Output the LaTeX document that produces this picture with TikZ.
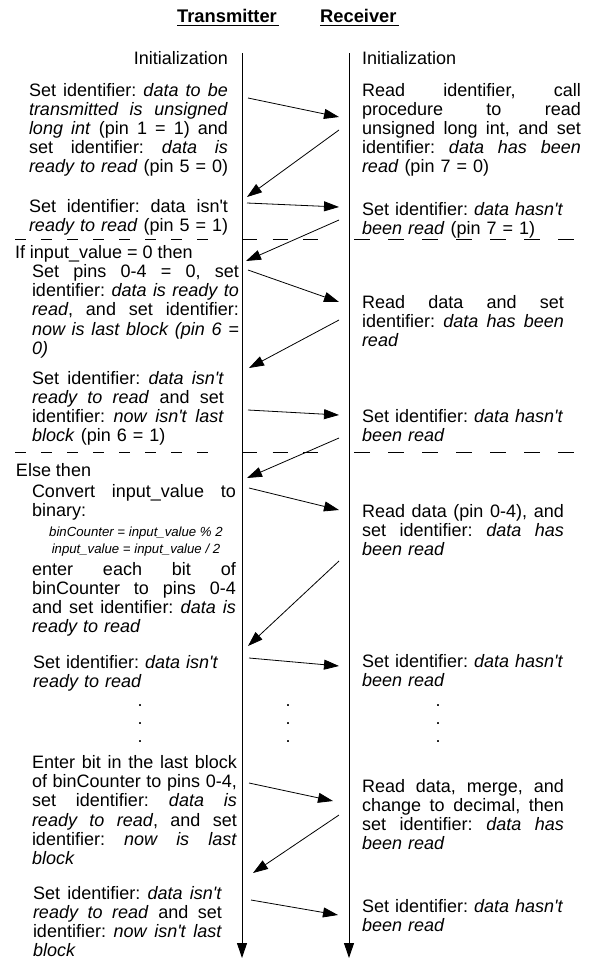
\documentclass[tikz,border=0pt]{standalone}
\usepackage{fontspec}
\setmainfont{Liberation Sans}[Ligatures=TeXOff]
\usetikzlibrary{arrows.meta}
\def\bwv{200pt}
\newcommand{\tf}{\fontsize{18}{19.2}\selectfont\frenchspacing}
\newcommand{\jl}[1]{\leavevmode\hbox to \bwv{\spaceskip=5pt plus 1fil minus 1.5pt\relax #1}}
\newcommand{\lastln}[1]{\leavevmode\hbox to \bwv{#1\hss}}
\begin{document}
\begin{tikzpicture}[x=1pt,y=-1pt,
  txt/.style={anchor=base west, inner sep=0pt, outer sep=0pt, font=\tf},
  blk/.style={anchor=base west, inner sep=0pt, outer sep=0pt, align=left, text width=240pt, font=\tf},
  conn/.style={-{Triangle[length=15pt,width=10pt]}, line width=0.8pt},
  life/.style={-{Triangle[length=15pt,width=10pt]}, line width=1pt},
  sepl/.style={line width=1pt, dash pattern=on 11pt off 15pt},
  sepm/.style={line width=1pt, dash pattern=on 15pt off 15.5pt},
  sepr/.style={line width=1pt, dash pattern=on 16pt off 18pt},
  dotn/.style={inner sep=0pt, font=\tf},
  smalltxt/.style={anchor=base, inner sep=0pt, font=\fontsize{13.2}{14}\selectfont\itshape},
  titletxt/.style={anchor=base west, inner sep=0pt, font=\fontsize{18.3}{20}\selectfont\bfseries}]
\useasboundingbox (0,0) rectangle (589,961);

% titles
\node[titletxt] (tT) at (177,22) {Transmitter};
\node[titletxt] (tR) at (320,22) {Receiver};
\draw[line width=1.5pt] ([yshift=-3.5pt]tT.base west) -- ([yshift=-3.5pt,xshift=2pt]tT.base east);
\draw[line width=1.5pt] ([yshift=-3.5pt]tR.base west) -- ([yshift=-3.5pt,xshift=2pt]tR.base east);

% lifelines
\coordinate (Ltop) at (242,53);
\coordinate (Lbot) at (242,958);
\coordinate (Rtop) at (349,53);
\coordinate (Rbot) at (349,958);
\draw[life] (Ltop) -- (Lbot);
\draw[life] (Rtop) -- (Rbot);

% initialization
\node[txt, anchor=base east] (initL) at (228,64) {Initialization};
\node[txt] (initR) at (362,64) {Initialization};

% block A
\node[blk] (lA) at (29,96) {\tf\def\bwv{199pt}\jl{Set identifier: \textit{data to be}}\\\jl{\textit{transmitted is unsigned}}\\\jl{\textit{long int} (pin 1 = 1) and}\\\jl{set identifier: \textit{data is}}\\\lastln{\textit{ready to read} (pin 5 = 0)}};
\node[blk] (rA) at (362,96) {\tf\def\bwv{219pt}\jl{Read identifier, call}\\\jl{procedure to read}\\\jl{unsigned long int, and set}\\\jl{identifier: \textit{data has been}}\\\lastln{\textit{read} (pin 7 = 0)}};

% block B
\node[blk] (lB) at (29,212) {\tf\def\bwv{199pt}\jl{Set identifier: data isn't}\\\lastln{\textit{ready to read} (pin 5 = 1)}};
\node[blk] (rB) at (362,215) {\tf Set identifier: \textit{data hasn't}\\\textit{been read} (pin 7 = 1)};

% separator 1
\draw[sepl] (15,239.5) -- (212,239.5);
\draw[sepm] (242,239.5) -- (320,239.5);
\draw[sepr] (354,239.5) -- (575,239.5);

% block C
\node[txt] (lIf) at (15,258) {If input\_value = 0 then};
\node[blk] (lC) at (32,277.5) {\tf\def\bwv{207pt}\jl{Set pins 0-4 = 0, set}\\\jl{identifier: \textit{data is ready to}}\\\jl{\textit{read}, and set identifier:}\\\jl{\textit{now is last block (pin 6 =}}\\\lastln{\textit{0)}}};
\node[blk] (rC) at (362,308) {\tf\def\bwv{202pt}\jl{Read data and set}\\\jl{identifier: \textit{data has been}}\\\lastln{\textit{read}}};

% block D
\node[blk] (lD) at (32,384) {\tf\def\bwv{192pt}\jl{Set identifier: \textit{data isn't}}\\\jl{\textit{ready to read} and set}\\\jl{identifier: \textit{now isn't last}}\\\lastln{\textit{block} (pin 6 = 1)}};
\node[blk] (rD) at (362,422.4) {\tf Set identifier: \textit{data hasn't}\\\textit{been read}};

% separator 2
\draw[sepl] (15,452) -- (212,452);
\draw[sepm] (242,452) -- (320,452);
\draw[sepr] (354,452) -- (575,452);

% block E
\node[txt] (lElse) at (16,476) {Else then};
\node[blk] (lE1) at (32,497) {\tf\def\bwv{204pt}\jl{Convert input\_value to}\\\lastln{binary:}};
\node[smalltxt] (s1) at (136,536) {binCounter = input\_value \% 2};
\node[smalltxt] (s2) at (136,553) {input\_value = input\_value / 2};
\node[blk] (lE2) at (32,575) {\tf\def\bwv{204pt}\jl{enter each bit of}\\\jl{binCounter to pins 0-4}\\\jl{and set identifier: \textit{data is}}\\\lastln{\textit{ready to read}}};
\node[blk] (rE) at (362,517) {\tf\def\bwv{202pt}\jl{Read data (pin 0-4), and}\\\jl{set identifier: \textit{data has}}\\\lastln{\textit{been read}}};

% block F
\node[blk] (lF) at (33,668) {\tf Set identifier: \textit{data isn't}\\\textit{ready to read}};
\node[blk] (rF) at (362,667) {\tf Set identifier: \textit{data hasn't}\\\textit{been read}};

% dots
\node[dotn] (dl1) at (140,706) {.};
\node[dotn] (dl2) at (140,724) {.};
\node[dotn] (dl3) at (140,742) {.};
\node[dotn] (dm1) at (288,706) {.};
\node[dotn] (dm2) at (288,724) {.};
\node[dotn] (dm3) at (288,742) {.};
\node[dotn] (dr1) at (438,706) {.};
\node[dotn] (dr2) at (438,724) {.};
\node[dotn] (dr3) at (438,742) {.};

% block G
\node[blk] (lG) at (32,768.5) {\tf\def\bwv{205pt}\jl{Enter bit in the last block}\\\jl{of binCounter to pins 0-4,}\\\jl{set identifier: \textit{data is}}\\\jl{\textit{ready to read}, and set}\\\jl{identifier: \textit{now is last}}\\\lastln{\textit{block}}};
\node[blk] (rG) at (362,792) {\tf\def\bwv{202pt}\jl{Read data, merge, and}\\\jl{change to decimal, then}\\\jl{set identifier: \textit{data has}}\\\lastln{\textit{been read}}};

% block H
\node[blk] (lH) at (33,899) {\tf\def\bwv{189pt}\jl{Set identifier: \textit{data isn't}}\\\jl{\textit{ready to read} and set}\\\jl{identifier: \textit{now isn't last}}\\\lastln{\textit{block}}};
\node[blk] (rH) at (362,912) {\tf Set identifier: \textit{data hasn't}\\\textit{been read}};

% connector end points
\coordinate (a1s) at (248,98);  \coordinate (a1e) at (339,117);
\coordinate (a2s) at (339,130); \coordinate (a2e) at (247,197);
\coordinate (a3s) at (247,203); \coordinate (a3e) at (339,207);
\coordinate (a4s) at (339,220); \coordinate (a4e) at (246,261);
\coordinate (a5s) at (248,270); \coordinate (a5e) at (339,302);
\coordinate (a6s) at (339,320); \coordinate (a6e) at (249,368);
\coordinate (a7s) at (248,410); \coordinate (a7e) at (339,415);
\coordinate (a8s) at (339,438); \coordinate (a8e) at (247,478);
\coordinate (a9s) at (249,488); \coordinate (a9e) at (339,510);
\coordinate (a10s) at (339,561); \coordinate (a10e) at (248,646);
\coordinate (a11s) at (249,658); \coordinate (a11e) at (339,666);
\coordinate (a12s) at (249,783); \coordinate (a12e) at (333,801);
\coordinate (a13s) at (339,815); \coordinate (a13e) at (253,873);
\coordinate (a14s) at (251,900); \coordinate (a14e) at (338,915);

\foreach \i in {1,...,14} {\draw[conn] (a\i s) -- (a\i e);}
\end{tikzpicture}
\end{document}
